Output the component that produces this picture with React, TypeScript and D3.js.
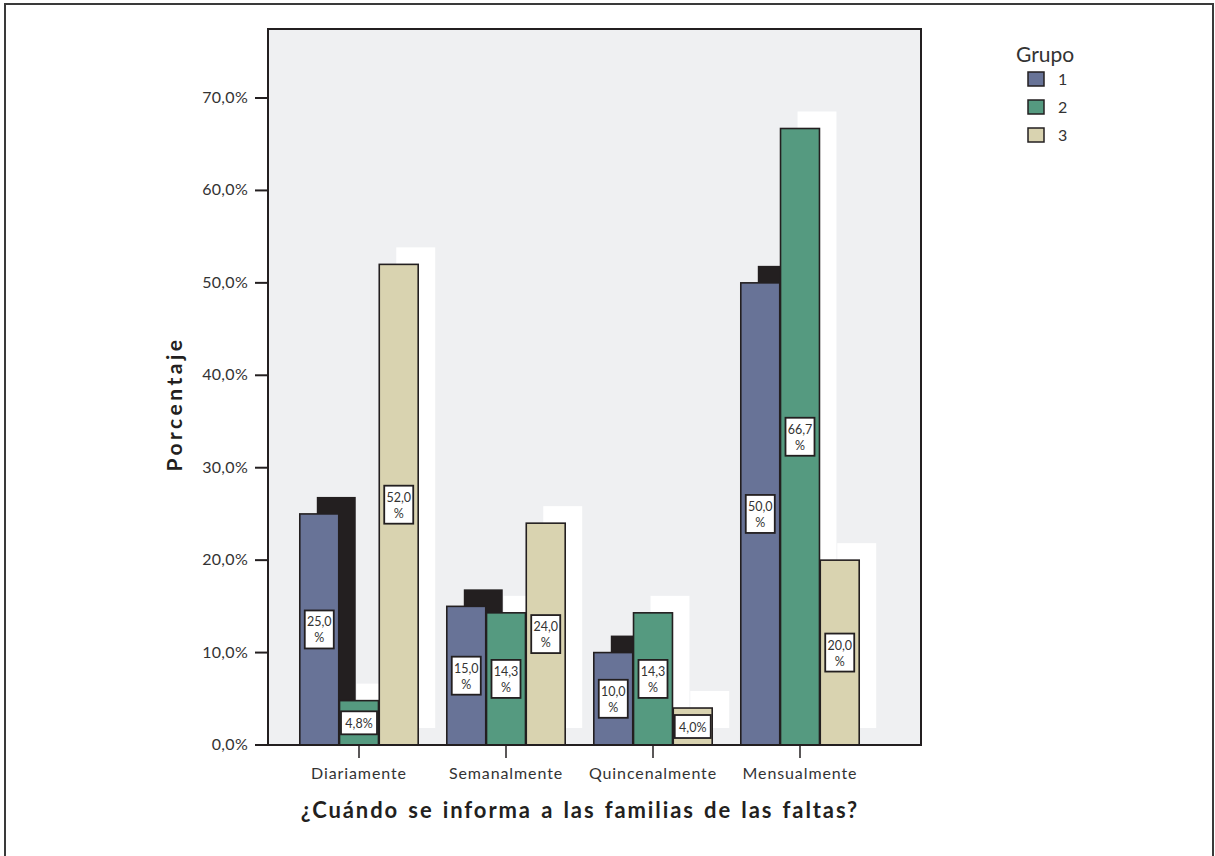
import * as d3 from 'd3';

const categories = ['Diariamente', 'Semanalmente', 'Quincenalmente', 'Mensualmente'];
const groups = ['1', '2', '3'];
const grupo1 = [25.0, 15.0, 10.0, 50.0];
const grupo2 = [4.8, 14.3, 14.3, 66.7];
const grupo3 = [52.0, 24.0, 4.0, 20.0];
const yTicks = [0, 10, 20, 30, 40, 50, 60, 70];

const series = [grupo1, grupo2, grupo3];
const colors = ['#687397', '#559a80', '#d9d3b0'];
const shadowColors = ['#231f20', '#ffffff', '#ffffff'];

const width = 1215;
const height = 856;
const plot = { left: 268, top: 29, right: 921, bottom: 745 };
const font = 'Lato, "Open Sans", sans-serif';
const ink = '#231f20';

const fmt = (v: number) => v.toFixed(1).replace('.', ',');

const App = () => {
  const y = d3.scaleLinear().domain([0, 70]).range([plot.bottom, 98]);
  const x0 = d3.scalePoint<string>().domain(categories).range([359, 800]);
  const x1 = d3.scaleBand<string>().domain(groups).range([-60, 60]).padding(0.02);
  const bw = x1.bandwidth();
  const off = 17;

  const bars = categories.flatMap((c, ci) =>
    groups.map((g, gi) => ({ c, g, gi, v: series[gi][ci], x: (x0(c) ?? 0) + (x1(g) ?? 0) }))
  );

  return (
    <svg width={width} height={height} viewBox={`0 0 ${width} ${height}`}
      style={{ position: 'absolute', left: 0, top: 0, display: 'block' }}>
      <rect x={5} y={4} width={1208} height={900} fill="#fff" stroke="#3a3a3a" strokeWidth={2} />
      <rect x={plot.left} y={plot.top} width={plot.right - plot.left} height={plot.bottom - plot.top}
        fill="#eff0f2" stroke={ink} strokeWidth={2} />

      {/* shadows */}
      {bars.map(b => (
        <rect key={'s' + b.c + b.g} x={b.x + off} y={y(b.v) - off} width={bw}
          height={plot.bottom - y(b.v)} fill={shadowColors[b.gi]} />
      ))}

      {/* bars */}
      {bars.map(b => (
        <rect key={'b' + b.c + b.g} x={b.x} y={y(b.v)} width={bw}
          height={plot.bottom - y(b.v)} fill={colors[b.gi]} stroke={ink} strokeWidth={1.6} />
      ))}

      {/* value labels */}
      {bars.map(b => {
        const cx = b.x + bw / 2;
        const cy = y(b.v / 2);
        const single = b.v < 5;
        const w = single ? 36 : 29;
        const h = single ? 23 : 38;
        return (
          <g key={'l' + b.c + b.g} fontFamily={font} fontSize={12.5} fill="#333" textAnchor="middle">
            <rect x={cx - w / 2} y={cy - h / 2} width={w} height={h} fill="#fff" stroke={ink} strokeWidth={1.8} />
            {single ? (
              <text x={cx} y={cy + 5}>{fmt(b.v)}%</text>
            ) : (
              <>
                <text x={cx} y={cy - 3}>{fmt(b.v)}</text>
                <text x={cx} y={cy + 13}>%</text>
              </>
            )}
          </g>
        );
      })}

      {/* y axis */}
      <line x1={255} x2={plot.right} y1={plot.bottom} y2={plot.bottom} stroke={ink} strokeWidth={2} />
      {yTicks.map(t => (
        <g key={'y' + t}>
          <line x1={255} x2={plot.left} y1={y(t)} y2={y(t)} stroke={ink} strokeWidth={2} />
          <text x={248} y={y(t) + 5} textAnchor="end" fontFamily={font} fontSize={16}
            letterSpacing={0.3} fill="#333">
            {fmt(t)}%
          </text>
        </g>
      ))}
      <text transform="translate(182,404) rotate(-90)" textAnchor="middle" fontFamily={font}
        fontSize={21} fontWeight="bold" letterSpacing={3.5} fill={ink}>Porcentaje</text>

      {/* x axis */}
      {categories.map(c => (
        <g key={'x' + c}>
          <line x1={x0(c)} x2={x0(c)} y1={plot.bottom} y2={758} stroke={ink} strokeWidth={1.5} />
          <text x={x0(c)} y={779} textAnchor="middle" fontFamily={font} fontSize={16}
            letterSpacing={0.9} fill="#333">{c}</text>
        </g>
      ))}
      <text x={580} y={818} textAnchor="middle" fontFamily={font} fontSize={22} fontWeight="bold"
        letterSpacing={1.9} wordSpacing={2} fill={ink}>¿Cuándo se informa a las familias de las faltas?</text>

      {/* legend */}
      <text x={1016} y={62} fontFamily={font} fontSize={21} fill="#333">Grupo</text>
      {groups.map((g, i) => (
        <g key={'g' + g}>
          <rect x={1028} y={72 + i * 28} width={16} height={14} fill={colors[i]} stroke={ink} strokeWidth={1.5} />
          <text x={1058} y={85 + i * 28} fontFamily={font} fontSize={16} fill="#333">{g}</text>
        </g>
      ))}
    </svg>
  );
};

export default App;
